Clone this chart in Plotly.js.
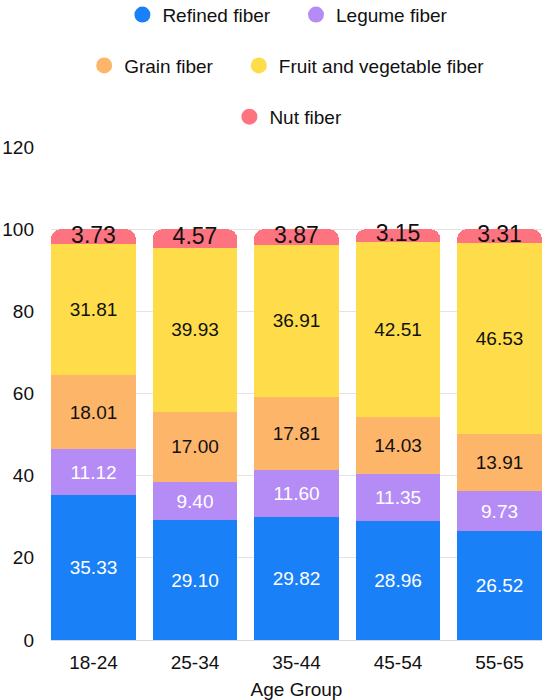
<!DOCTYPE html>
<html>
<head>
<meta charset="utf-8">
<script src="https://cdn.plot.ly/plotly-3.0.1.min.js"></script>
<style>html,body{margin:0;padding:0;background:#fff;}#chart{width:550px;height:700px;}</style>
</head>
<body>
<div id="chart"></div>
<script>
const categories = ["18-24", "25-34", "35-44", "45-54", "55-65"];
const refinedFiber = [35.33, 29.10, 29.82, 28.96, 26.52];
const legumeFiber = [11.12, 9.40, 11.60, 11.35, 9.73];
const grainFiber = [18.01, 17.00, 17.81, 14.03, 13.91];
const fruitVegFiber = [31.81, 39.93, 36.91, 42.51, 46.53];
const nutFiber = [3.73, 4.57, 3.87, 3.15, 3.31];

const seriesNames = ["Refined fiber", "Legume fiber", "Grain fiber", "Fruit and vegetable fiber", "Nut fiber"];
const seriesValues = [refinedFiber, legumeFiber, grainFiber, fruitVegFiber, nutFiber];
const colors = ["#1a80f7", "#b58cf6", "#fdb56a", "#ffdd4a", "#fe7380"];
const textColors = ["#ffffff", "#ffffff", "#111111", "#111111", "#111111"];
const legendIds = ["legend", "legend2", "legend3", "legend4", "legend5"];

const FONT = "Liberation Sans, Arial, sans-serif";
const traces = [];
seriesValues.forEach((vals, i) => {
  const isNut = i === seriesValues.length - 1;
  traces.push({
    type: "bar",
    name: seriesNames[i],
    x: categories,
    y: vals,
    marker: {color: colors[i], line: {width: 0}},
    text: isNut ? null : vals.map(v => v.toFixed(2)),
    textposition: isNut ? "none" : "inside",
    insidetextanchor: "middle",
    textangle: 0,
    constraintext: "none",
    textfont: {family: FONT, size: 19, color: textColors[i]},
    showlegend: false,
    hoverinfo: "skip"
  });
});

// Nut fiber labels: centred in the top segment, drawn at full size
const nutBase = categories.map((c, j) =>
  refinedFiber[j] + legumeFiber[j] + grainFiber[j] + fruitVegFiber[j]);
traces.push({
  type: "scatter",
  mode: "text",
  x: categories,
  y: nutBase.map((b, j) => b + nutFiber[j] / 2),
  text: nutFiber.map(v => v.toFixed(2)),
  textposition: "middle center",
  textfont: {family: FONT, size: 23, color: "#111111"},
  cliponaxis: false,
  showlegend: false,
  hoverinfo: "skip"
});

seriesValues.forEach((vals, i) => {
  traces.push({
    type: "scatter",
    mode: "markers",
    name: seriesNames[i],
    x: [null],
    y: [null],
    marker: {color: colors[i], size: 19, symbol: "circle"},
    legend: legendIds[i],
    showlegend: true,
    hoverinfo: "skip"
  });
});

const legendBase = {
  orientation: "h",
  xref: "container",
  yref: "container",
  xanchor: "left",
  yanchor: "middle",
  font: {family: FONT, size: 19, color: "#111"},
  bgcolor: "rgba(0,0,0,0)",
  itemclick: false,
  itemdoubleclick: false
};
const leg = (x0, yc) => Object.assign({}, legendBase, {x: x0 / 550, y: 1 - yc / 700});

const layout = {
  width: 550,
  height: 700,
  margin: {l: 51, r: 8, t: 147, b: 60},
  paper_bgcolor: "#fff",
  plot_bgcolor: "#fff",
  barmode: "stack",
  bargap: 0.163,
  barcornerradius: 10,
  font: {family: FONT, size: 19, color: "#111"},
  xaxis: {
    type: "category",
    range: [-0.4185, 4.4185],
    showgrid: false,
    showline: true,
    linecolor: "#d9d9d9",
    linewidth: 1,
    ticks: "",
    ticklabelstandoff: 5,
    tickfont: {family: FONT, size: 19, color: "#111"},
    title: {text: "Age Group", font: {family: FONT, size: 19, color: "#111"}, standoff: 14},
    fixedrange: true
  },
  yaxis: {
    range: [0, 120],
    tickvals: [0, 20, 40, 60, 80, 100, 120],
    showgrid: true,
    gridcolor: "#e3e3e3",
    gridwidth: 1,
    zeroline: false,
    showline: false,
    ticks: "",
    ticklabelstandoff: 16,
    tickfont: {family: FONT, size: 19, color: "#111"},
    fixedrange: true
  },
  legend: leg(122.4, 14.7),
  legend2: leg(296, 14.7),
  legend3: leg(84.2, 65.6),
  legend4: leg(238.8, 65.6),
  legend5: leg(229.4, 116.8),
  hovermode: false
};

Plotly.newPlot("chart", traces, layout, {staticPlot: true, displayModeBar: false});
</script>
</body>
</html>
